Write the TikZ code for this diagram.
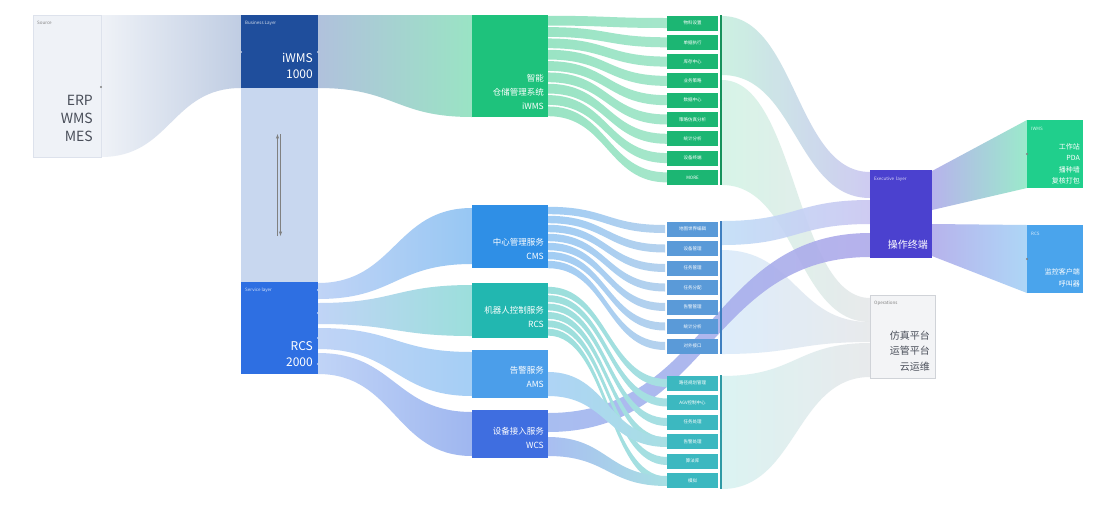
\documentclass[tikz,border=0pt]{standalone}
\usepackage{fontspec}
\setmainfont{Noto Sans CJK SC}
\definecolor{srcfill}{HTML}{EFF2F7}
\definecolor{srcline}{HTML}{DDE2EC}
\definecolor{bizblue}{HTML}{1F4E9C}
\definecolor{colblue}{HTML}{C8D7EF}
\definecolor{svcblue}{HTML}{2E6FE2}
\definecolor{iwmsgreen}{HTML}{1EC27C}
\definecolor{gitem}{HTML}{1CB673}
\definecolor{gbar}{HTML}{17925C}
\definecolor{cmsblue}{HTML}{2F8FE6}
\definecolor{rcsteal}{HTML}{22B7B0}
\definecolor{amsblue}{HTML}{4B9EEA}
\definecolor{wcsblue}{HTML}{3F6EE0}
\definecolor{bitem}{HTML}{5A9AD8}
\definecolor{bbar}{HTML}{3F7FC0}
\definecolor{titem}{HTML}{3CB8C0}
\definecolor{tbar}{HTML}{2F9AA5}
\definecolor{execblue}{HTML}{4B41CF}
\definecolor{iwmsR}{HTML}{20CF8C}
\definecolor{rcsR}{HTML}{4AA4EC}
\definecolor{opsfill}{HTML}{F3F4F6}
\definecolor{opsline}{HTML}{D0D3D8}
\definecolor{darktext}{HTML}{4A4F5A}
\newcommand\skband[9]{%
 \shade[left color=#7,right color=#8,fill opacity=#9] (#1,#2) .. controls ({(#1+#4)/2},#2) and ({(#1+#4)/2},#5) .. (#4,#5) -- (#4,#6) .. controls ({(#1+#4)/2},#6) and ({(#1+#4)/2},#3) .. (#1,#3) -- cycle;}
\newcommand\skwedge[8]{%
 \shade[left color=#7,right color=#8] (#1,#2) -- (#4,#5) -- (#4,#6) -- (#1,#3) -- cycle;}
\tikzset{
 box/.style={inner sep=0pt, outer sep=0pt, anchor=north west},
 tinylbl/.style={font=\fontsize{4.5}{5}\selectfont, anchor=west, inner sep=0pt},
 lbl/.style={anchor=east, inner sep=0pt, text=white, font=\fontsize{8.5}{9}\selectfont},
 itembox/.style={inner sep=0pt, outer sep=0pt, minimum width=51pt, minimum height=15pt, text=white, font=\fontsize{4.5}{5}\selectfont},
 dot/.style={circle, fill=#1, inner sep=0pt, minimum size=2.2pt},
}
\begin{document}
\begin{tikzpicture}[x=1pt,y=-1pt]
\useasboundingbox[fill=white] (0,0) rectangle (1108,507);

% ---- big flows
\skband{101}{15}{157}{241}{15}{88}{srcfill}{srcfill!40!bizblue!45}{1}
\fill[colblue] (241,88) rectangle (318,282);
\skband{318}{15}{88}{472}{15}{117}{bizblue!35}{iwmsgreen!45}{1}

\skband{318}{283}{299}{472}{208}{264}{svcblue!30}{cmsblue!50}{1}
\skband{318}{303}{324}{472}{285}{336}{svcblue!30}{rcsteal!45}{1}
\skband{318}{328}{349}{472}{352}{396}{svcblue!30}{amsblue!50}{1}
\skband{318}{353}{374}{472}{412}{456}{svcblue!30}{wcsblue!50}{1}

% list -> exec / ops
\skband{722}{16}{75}{870}{172}{198}{iwmsgreen!25}{execblue!30}{0.9}
\skband{722}{80}{185}{870}{298}{322}{iwmsgreen!22}{opsline!60}{0.8}
\skband{722}{221}{245}{870}{200}{224}{cmsblue!30}{execblue!30}{0.9}
\skband{722}{250}{354}{870}{322}{342}{cmsblue!20}{opsline!60}{0.8}
\skband{722}{376}{489}{870}{343}{377}{rcsteal!20}{opsline!60}{0.8}
\skband{548}{413}{432}{870}{233}{257}{wcsblue!50}{execblue!45}{0.9}

% exec -> terminals
\skwedge{932}{171}{210}{1027}{120}{188}{execblue!40}{iwmsR!45}
\skwedge{932}{224}{256}{1027}{225}{293}{execblue!40}{rcsR!45}

% ---- fans
\foreach \i [evaluate=\i as \st using 15+11.33*\i+0.8,
             evaluate=\i as \sb using 15+11.33*(\i+1)-0.8,
             evaluate=\i as \c using 23+19.3*\i] in {0,...,8}
  {\skband{548}{\st}{\sb}{667}{\c-5}{\c+5}{iwmsgreen!45}{iwmsgreen!40}{1}}
\foreach \i [evaluate=\i as \st using 206+9*\i+0.8,
             evaluate=\i as \sb using 206+9*(\i+1)-0.8,
             evaluate=\i as \c using 229+19.5*\i] in {0,...,6}
  {\skband{548}{\st}{\sb}{665}{\c-4}{\c+4}{cmsblue!45}{bitem!45}{1}}
\foreach \i [evaluate=\i as \st using 286+8.4*\i+0.8,
             evaluate=\i as \sb using 286+8.4*(\i+1)-0.8,
             evaluate=\i as \c using 383+19.5*\i] in {0,...,5}
  {\skband{548}{\st}{\sb}{667}{\c-4}{\c+4}{rcsteal!45}{titem!45}{1}}
\skband{548}{372}{396}{667}{437}{447}{amsblue!45}{titem!45}{1}
\skband{548}{437}{456}{667}{476}{486}{wcsblue!45}{titem!45}{1}

% ---- boxes
\node[box, fill=srcfill, draw=srcline, minimum width=68pt, minimum height=142pt] (src) at (33,15) {};
\node[tinylbl, text=gray] at (37,23) {Source};
\node[anchor=east, inner sep=0pt, text=darktext, font=\fontsize{14}{18}\selectfont, align=right] (srctext) at (93,118) {ERP\\WMS\\MES};

\node[box, fill=bizblue, minimum width=77pt, minimum height=73pt] (biz) at (241,15) {};
\node[tinylbl, text=white!80!bizblue] at (245,23) {Business Layer};
\node[anchor=east, inner sep=0pt, text=white, font=\fontsize{12}{15.5}\selectfont, align=right] (biztext) at (313,66) {iWMS\\1000};

\node[box, fill=svcblue, minimum width=77pt, minimum height=92pt] (svc) at (241,282) {};
\node[tinylbl, text=white!80!svcblue] at (245,290) {Service layer};
\node[anchor=east, inner sep=0pt, text=white, font=\fontsize{12}{15.5}\selectfont, align=right] (svctext) at (313,354) {RCS\\2000};

\node[box, fill=iwmsgreen, minimum width=76pt, minimum height=102pt] (iwms) at (472,15) {};
\node[lbl, align=right, font=\fontsize{8.5}{14}\selectfont] (iwmstext) at (544,92) {智能\\仓储管理系统\\iWMS};

\node[box, fill=cmsblue, minimum width=76pt, minimum height=63pt] (cms) at (472,205) {};
\node[lbl, align=right, font=\fontsize{8.5}{14}\selectfont] (cmstext) at (544,249) {中心管理服务\\CMS};
\node[box, fill=rcsteal, minimum width=76pt, minimum height=55pt] (rcs) at (472,283) {};
\node[lbl, align=right, font=\fontsize{8.5}{14}\selectfont] (rcstext) at (544,317) {机器人控制服务\\RCS};
\node[box, fill=amsblue, minimum width=76pt, minimum height=48pt] (ams) at (472,350) {};
\node[lbl, align=right, font=\fontsize{8.5}{14}\selectfont] (amstext) at (544,377) {告警服务\\AMS};
\node[box, fill=wcsblue, minimum width=76pt, minimum height=48pt] (wcs) at (472,410) {};
\node[lbl, align=right, font=\fontsize{8.5}{14}\selectfont] (wcstext) at (544,438) {设备接入服务\\WCS};

% lists
\foreach \lab [count=\k from 0, evaluate=\k as \c using 23+19.3*\k] in
  {物料设置,单据执行,库存中心,业务策略,数据中心,策略仿真分析,统计分析,设备终端,MORE}
  {\node[itembox, fill=gitem] (g\k) at (692.5,\c) {\lab};}
\fill[gbar] (720,15) rectangle (722,185);
\foreach \lab [count=\k from 0, evaluate=\k as \c using 229+19.5*\k] in
  {地图世界编辑,设备管理,任务管理,任务分配,告警管理,统计分析,对外接口}
  {\node[itembox, fill=bitem] (b\k) at (692.5,\c) {\lab};}
\fill[bbar] (720,221) rectangle (722,354);
\foreach \lab [count=\k from 0, evaluate=\k as \c using 383+19.5*\k] in
  {路径规划管理,AGV控制中心,任务处理,告警处理,算法库,模拟}
  {\node[itembox, fill=titem] (t\k) at (692.5,\c) {\lab};}
\fill[tbar] (720,375) rectangle (722,489);

% right side
\node[box, fill=execblue, minimum width=62pt, minimum height=88pt] (exec) at (870,170) {};
\node[tinylbl, text=white!80!execblue] at (874,179) {Executive\ \ layer};
\node[lbl, font=\fontsize{10}{11}\selectfont] (exectext) at (928,245) {操作终端};

\node[box, fill=iwmsR, minimum width=56pt, minimum height=68pt] (iwmsr) at (1027,120) {};
\node[tinylbl, text=white!80!iwmsR] at (1031,129) {IWMS};
\node[lbl, align=right, font=\fontsize{7}{11.5}\selectfont] (iwmsrtext) at (1080,164) {工作站\\PDA\\播种墙\\复核打包};

\node[box, fill=rcsR, minimum width=56pt, minimum height=68pt] (rcsr) at (1027,225) {};
\node[tinylbl, text=white!80!rcsR] at (1031,234) {RCS};
\node[lbl, align=right, font=\fontsize{7}{11.5}\selectfont] (rcsrtext) at (1080,278) {监控客户端\\呼叫器};

\node[box, fill=opsfill, draw=opsline, minimum width=65pt, minimum height=83pt] (ops) at (870,295) {};
\node[tinylbl, text=gray] at (874,303) {Operations};
\node[anchor=east, inner sep=0pt, text=darktext, align=right, font=\fontsize{10}{15.5}\selectfont] (opstext) at (930,351) {仿真平台\\运管平台\\云运维};

% double arrow in business column
\draw[gray, line width=0.5pt, -latex] (277.5,236) -- (277.5,134);
\draw[gray, line width=0.5pt, -latex] (280.5,134) -- (280.5,236);

% connection dots
\node[dot=gray] (d1) at (101,87) {};
\node[dot=white!70!bizblue] (d2) at (241,52) {};
\node[dot=white!70!bizblue] (d3) at (318,52) {};
\node[dot=white!70!svcblue] (d4) at (318,290) {};
\node[dot=white!70!svcblue] (d5) at (318,313) {};
\node[dot=white!70!svcblue] (d6) at (318,338) {};
\node[dot=white!70!svcblue] (d7) at (318,364) {};
\node[dot=gbar] (d8) at (721,100) {};
\node[dot=bbar] (d9) at (721,288) {};
\node[dot=tbar] (d10) at (721,432) {};
\node[dot=gray] (d11) at (1027,154) {};
\node[dot=gray] (d12) at (1027,259) {};
\end{tikzpicture}
\end{document}
